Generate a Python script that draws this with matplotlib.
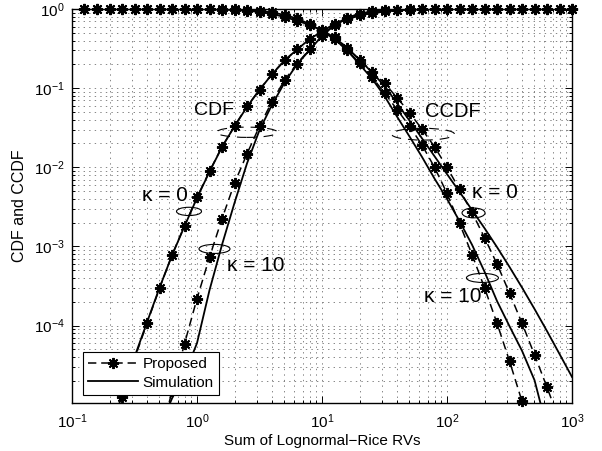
import numpy as np
import matplotlib.pyplot as plt
from matplotlib.lines import Line2D
from matplotlib.patches import Ellipse

plt.rcParams['font.family'] = ['Liberation Sans', 'DejaVu Sans']
plt.rcParams['mathtext.fontset'] = 'custom'
plt.rcParams['mathtext.rm'] = 'Liberation Sans'
plt.rcParams['lines.scale_dashes'] = False

nan = np.nan

# sampling grid: 0.1 decade steps from 10^-0.9 to 10^3
x = np.logspace(-0.9, 3.0, 40)

# CDF, kappa = 0
cdf_k0_prop = [nan, 1.0e-6, 3.8e-6, 1.26e-5, 3.8e-5, 1.07e-4, 2.95e-4, 7.8e-4, 1.82e-3,
               4.17e-3, 8.9e-3, 0.0182, 0.0331, 0.0589, 0.0955, 0.151, 0.224, 0.309, 0.417,
               0.525, 0.646, 0.741, 0.832, 0.891, 0.933, 0.964, 0.982, 0.991, 0.995,
               0.998, 0.999, 1.0, 1.0, 1.0, 1.0, 1.0, 1.0, 1.0, 1.0, 1.0]
cdf_k0_sim = [nan, nan, 4.5e-6, 1.3e-5, 4.0e-5, 1.1e-4, 3.0e-4, 7.7e-4, 1.8e-3,
              4.1e-3, 8.8e-3, 0.018, 0.033, 0.058, 0.095, 0.150, 0.223, 0.308, 0.415,
              0.523, 0.644, 0.740, 0.830, 0.890, 0.932, 0.963, 0.981, 0.990, 0.995,
              0.998, 0.999, 1.0, 1.0, 1.0, 1.0, 1.0, 1.0, 1.0, 1.0, 1.0]

# CDF, kappa = 10
cdf_k10_prop = [nan, nan, nan, nan, nan, nan, 3.5e-6, 1.48e-5, 5.9e-5,
                2.19e-4, 7.3e-4, 2.24e-3, 6.3e-3, 0.0148, 0.0331, 0.0676, 0.126, 0.204, 0.309,
                0.462, 0.631, 0.776, 0.871, 0.933, 0.966, 0.986, 0.993, 0.998, 1.0,
                1.0, 1.0, 1.0, 1.0, 1.0, 1.0, 1.0, 1.0, 1.0, 1.0, 1.0]
cdf_k10_sim = [nan, nan, nan, nan, nan, nan, 5.0e-6, 1.2e-5, 2.4e-5,
               6.0e-5, 2.8e-4, 1.05e-3, 3.55e-3, 0.0112, 0.0295, 0.0617, 0.117, 0.200, 0.302,
               0.457, 0.628, 0.774, 0.870, 0.932, 0.965, 0.985, 0.993, 0.998, 1.0,
               1.0, 1.0, 1.0, 1.0, 1.0, 1.0, 1.0, 1.0, 1.0, 1.0, 1.0]

# CCDF, kappa = 0
ccdf_k0_prop = [1.0, 1.0, 1.0, 1.0, 1.0, 1.0, 1.0, 1.0, 1.0,
                0.998, 0.993, 0.984, 0.970, 0.951, 0.920, 0.865, 0.794, 0.711, 0.631,
                0.537, 0.437, 0.324, 0.229, 0.162, 0.115, 0.0759, 0.0490, 0.0302, 0.0182,
                0.0100, 5.25e-3, 2.69e-3, 1.29e-3, 6.0e-4, 2.57e-4, 1.07e-4, 4.27e-5, 1.66e-5,
                6.2e-6, 2.2e-6]
ccdf_k0_sim = [1.0, 1.0, 1.0, 1.0, 1.0, 1.0, 1.0, 1.0, 1.0,
               0.998, 0.993, 0.984, 0.970, 0.951, 0.920, 0.865, 0.794, 0.711, 0.631,
               0.537, 0.437, 0.324, 0.229, 0.158, 0.107, 0.0646, 0.0389, 0.0232, 0.0138,
               8.2e-3, 4.9e-3, 2.88e-3, 1.70e-3, 9.8e-4, 5.5e-4, 3.02e-4, 1.62e-4, 8.5e-5,
               4.37e-5, 2.24e-5]

# CCDF, kappa = 10
ccdf_k10_prop = [1.0, 1.0, 1.0, 1.0, 1.0, 1.0, 1.0, 1.0, 1.0,
                 1.0, 1.0, 0.997, 0.989, 0.973, 0.951, 0.908, 0.841, 0.759, 0.646,
                 0.525, 0.417, 0.302, 0.209, 0.138, 0.0871, 0.0537, 0.0331, 0.0191, 0.0100,
                 4.68e-3, 1.95e-3, 7.9e-4, 3.0e-4, 1.07e-4, 3.55e-5, 1.10e-5, 3.2e-6, nan,
                 nan, nan]
ccdf_k10_sim = [1.0, 1.0, 1.0, 1.0, 1.0, 1.0, 1.0, 1.0, 1.0,
                1.0, 1.0, 0.997, 0.989, 0.973, 0.951, 0.908, 0.841, 0.759, 0.646,
                0.525, 0.417, 0.302, 0.200, 0.132, 0.0794, 0.0437, 0.0245, 0.0135, 7.2e-3,
                3.98e-3, 2.09e-3, 1.05e-3, 4.8e-4, 2.04e-4, 9.8e-5, 4.8e-5, 2.04e-5, 5.0e-6,
                nan, nan]

ylo = 1.05e-5
star = (8, 2, 0)
dash = (0, (6, 3.5))

fig = plt.figure(figsize=(6.02, 4.51), dpi=100)
ax = fig.add_axes([0.1196, 0.1064, 0.8306, 0.8736])
ax.set_xscale('log')
ax.set_yscale('log')
ax.set_xlim(0.1, 1000)
ax.set_ylim(ylo, 1)


def draw_proposed(y):
    y = np.asarray(y, float)
    ax.plot(x, y, color='k', lw=1.1, ls=dash, zorder=3)
    keep = np.isfinite(y) & (y >= ylo)
    ax.plot(x[keep], y[keep], ls='none', marker=star, ms=8, mew=1.4,
            color='k', clip_on=False, zorder=4)


def draw_sim(y):
    ax.plot(x, np.asarray(y, float), color='k', lw=1.3, zorder=3)


for y in (cdf_k0_sim, cdf_k10_sim, ccdf_k0_sim, ccdf_k10_sim):
    draw_sim(y)
for y in (cdf_k0_prop, cdf_k10_prop, ccdf_k0_prop, ccdf_k10_prop):
    draw_proposed(y)

ax.grid(True, which='both', ls=(0, (1, 3)), color='0.45', lw=0.6)
ax.tick_params(which='both', direction='in', top=True, right=True, labelsize=11, width=0.7)
ax.tick_params(which='major', length=5)
ax.tick_params(which='minor', length=2.5)
ax.tick_params(axis='x', which='major', pad=7)
ax.tick_params(axis='y', which='major', pad=5)
for s in ax.spines.values():
    s.set_linewidth(1.0)

ax.set_xlabel('Sum of Lognormal\u2212Rice RVs', fontsize=11, labelpad=2)
ax.set_ylabel('CDF and CCDF', fontsize=11.5, labelpad=5)


def ring(xc, yc, w, h, ls='-'):
    fx, fy = (ax.transScale + ax.transLimits).transform((xc, yc))
    ax.add_patch(Ellipse((fx, fy), w, h, transform=ax.transAxes, fill=False,
                         ec='k', lw=0.8, ls=ls, zorder=5))


ring(2.51, 0.0277, 0.122, 0.026, ls=(0, (7, 5)))
ring(64.3, 0.0262, 0.126, 0.030, ls=(0, (7, 5)))
ring(0.863, 2.77e-3, 0.050, 0.021)
ring(1.38, 9.3e-4, 0.062, 0.023)
ring(163, 2.65e-3, 0.046, 0.025)
ring(192, 4.0e-4, 0.064, 0.023)

ax.text(1.38, 0.0527, 'CDF', fontsize=14, ha='center', va='center')
ax.text(111, 0.0504, 'CCDF', fontsize=14.5, ha='center', va='center')
ax.text(0.55, 4.4e-3, '\u03ba = 0', fontsize=15, ha='center', va='center')
ax.text(2.96, 5.8e-4, '\u03ba = 10', fontsize=15, ha='center', va='center')
ax.text(240, 4.75e-3, '\u03ba = 0', fontsize=15, ha='center', va='center')
ax.text(111, 2.3e-4, '\u03ba = 10', fontsize=15, ha='center', va='center')

handles = [
    Line2D([], [], color='k', lw=1.1, ls=dash, marker=star, ms=8, mew=1.4),
    Line2D([], [], color='k', lw=1.3),
]
leg = ax.legend(handles, ['Proposed', 'Simulation'], loc='lower left',
                bbox_to_anchor=(0.0214, 0.0203), borderaxespad=0, fontsize=11,
                handlelength=3.3, handletextpad=0.25, borderpad=0.35, labelspacing=0.3,
                fancybox=False, framealpha=1, edgecolor='k')
leg.get_frame().set_linewidth(0.8)
leg.set_zorder(10)

fig.savefig('out.png', dpi=100)
